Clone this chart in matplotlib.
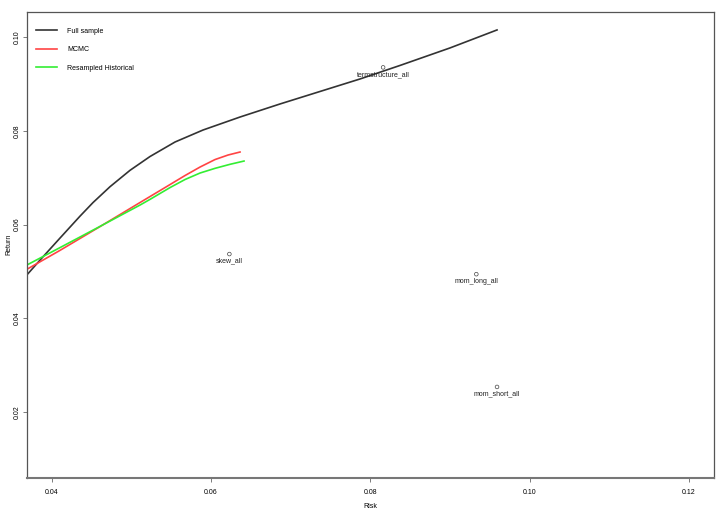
import matplotlib
matplotlib.use("Agg")
import matplotlib.pyplot as plt

plt.rcParams['font.family'] = ['Liberation Sans Narrow', 'Liberation Sans', 'DejaVu Sans']

# efficient frontiers (risk, return)
full_risk = [0.03686, 0.03853, 0.04104, 0.04355, 0.04518, 0.04732, 0.04983, 0.05234, 0.05548,
             0.05899, 0.06364, 0.06866, 0.07368, 0.07870, 0.08372, 0.08999, 0.09590]
full_ret = [0.04920, 0.05241, 0.05712, 0.06180, 0.06470, 0.06810, 0.07160, 0.07455, 0.07765,
            0.08021, 0.08299, 0.08578, 0.08845, 0.09112, 0.09401, 0.09775, 0.10160]

mcmc_risk = [0.03686, 0.04104, 0.04606, 0.05108, 0.05422, 0.05673, 0.05862, 0.06050, 0.06214, 0.06364]
mcmc_ret = [0.05042, 0.05449, 0.05957, 0.06471, 0.06791, 0.07048, 0.07230, 0.07390, 0.07487, 0.07551]

hist_risk = [0.03686, 0.04104, 0.04606, 0.05108, 0.05234, 0.05485, 0.05673, 0.05862, 0.06050, 0.06238, 0.06414]
hist_ret = [0.05134, 0.05508, 0.05961, 0.06417, 0.06539, 0.06791, 0.06963, 0.07102, 0.07202, 0.07288, 0.07358]

# single assets
asset_names = ["termstructure_all", "skew_all", "mom_long_all", "mom_short_all"]
asset_risk = [0.0816, 0.0623, 0.0933, 0.0959]
asset_ret = [0.0936, 0.0537, 0.0494, 0.0253]

x_ticks = [0.04, 0.06, 0.08, 0.10, 0.12]
y_ticks = [0.02, 0.04, 0.06, 0.08, 0.10]

fig = plt.figure(figsize=(7.2, 5.13), dpi=100)
ax = fig.add_axes([0.0371, 0.0688, 0.9546, 0.9084])

ax.plot(full_risk, full_ret, color="#333333", lw=1.2, label="Full sample")
ax.plot(mcmc_risk, mcmc_ret, color="#ff4444", lw=1.2, label="MCMC")
ax.plot(hist_risk, hist_ret, color="#33ee33", lw=1.2, label="Resampled Historical")

ax.scatter(asset_risk, asset_ret, s=7, facecolors="none", edgecolors="#444444", linewidths=0.5)
for name, rx, ry in zip(asset_names, asset_risk, asset_ret):
    ax.annotate(name, (rx, ry), xytext=(0, -2.5), textcoords="offset points",
                ha="center", va="top", fontsize=5, color="#222222")

ax.set_xlim(0.03686, 0.12314)
ax.set_ylim(0.0059, 0.1055)
ax.set_xticks(x_ticks)
ax.set_xticklabels([f"{v:.2f}" for v in x_ticks])
ax.set_yticks(y_ticks)
ax.set_yticklabels([f"{v:.2f}" for v in y_ticks], rotation=90, va="center")
ax.tick_params(labelsize=5, length=3, width=0.6, color="#666666")
ax.tick_params(axis="x", pad=5)
ax.tick_params(axis="y", pad=1)

ax.set_xlabel("Risk", fontsize=5, labelpad=5.5)
ax.set_ylabel("Return", fontsize=5, labelpad=1.5)

for s in ax.spines.values():
    s.set_color("#555555")
    s.set_linewidth(0.9)
ax.spines["bottom"].set_linewidth(1.5)
ax.spines["bottom"].set_color("#777777")

ax.legend(loc="upper left", bbox_to_anchor=(0.0, 0.985), frameon=False, fontsize=5,
          handlelength=3.0, handletextpad=1.5, labelspacing=1.65, borderaxespad=0.9)

fig.savefig("out.png", dpi=100)
